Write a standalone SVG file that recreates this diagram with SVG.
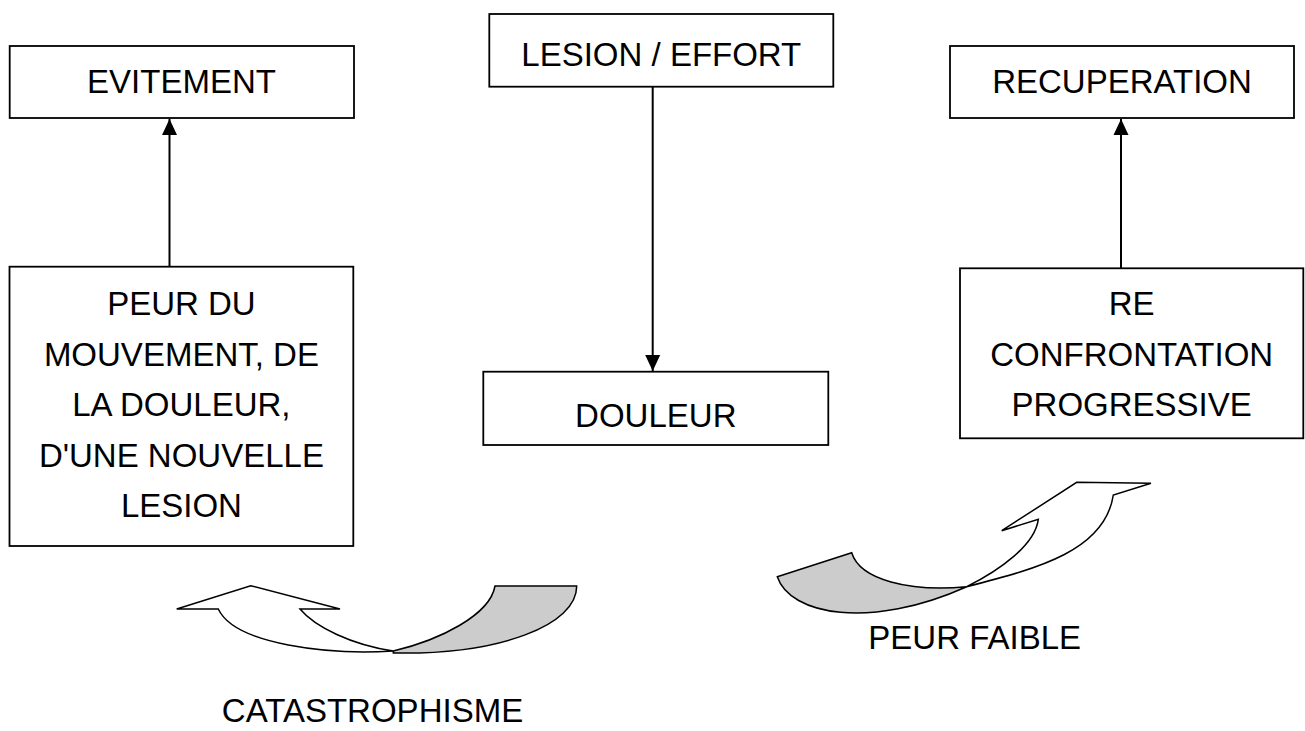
<svg xmlns="http://www.w3.org/2000/svg" width="1305" height="731" viewBox="0 0 1305 731">
<style>
.box{fill:#fff;stroke:#000;stroke-width:1.8}
.t{font-family:"Liberation Sans",Arial,sans-serif;font-size:33px;fill:#000;text-anchor:middle}
.conn{stroke:#000;stroke-width:2;fill:none}
.sh{stroke:#000;stroke-width:1.5;stroke-linejoin:miter}
</style>
<defs>
<marker id="ah" markerUnits="userSpaceOnUse" markerWidth="16" markerHeight="16" viewBox="0 0 16 16" refX="16" refY="8" orient="auto">
<path d="M0,0.5 L16,8 L0,15.5 Z" fill="#000"/>
</marker>
</defs>
<rect width="1305" height="731" fill="#fff"/>
<g id="connectors">
<line class="conn" x1="169.5" y1="266.7" x2="169.5" y2="119" marker-end="url(#ah)"/>
<line class="conn" x1="652.7" y1="87" x2="652.7" y2="371" marker-end="url(#ah)"/>
<line class="conn" x1="1121" y1="268.3" x2="1121" y2="119" marker-end="url(#ah)"/>
</g>
<g id="evitement">
<rect class="box" x="9.7" y="46" width="344.3" height="72"/>
<text class="t" x="181.5" y="93">EVITEMENT</text>
</g>
<g id="lesion-effort">
<rect class="box" x="489.3" y="14" width="344" height="72.7"/>
<text class="t" x="661.3" y="66">LESION / EFFORT</text>
</g>
<g id="recuperation">
<rect class="box" x="950" y="46" width="344" height="72"/>
<text class="t" x="1122" y="93">RECUPERATION</text>
</g>
<g id="peur">
<rect class="box" x="9.5" y="266.7" width="343.8" height="279.3"/>
<text class="t" x="181.4" y="315">PEUR DU</text>
<text class="t" x="181.4" y="365.5">MOUVEMENT, DE</text>
<text class="t" x="181.4" y="416">LA DOULEUR,</text>
<text class="t" x="181.4" y="466.5">D'UNE NOUVELLE</text>
<text class="t" x="181.4" y="517">LESION</text>
</g>
<g id="douleur">
<rect class="box" x="483.3" y="371.7" width="345" height="73.3"/>
<text class="t" x="655.8" y="427">DOULEUR</text>
</g>
<g id="reconfrontation">
<rect class="box" x="960" y="268.3" width="343.3" height="170"/>
<text class="t" x="1131.7" y="315">RE</text>
<text class="t" x="1131.7" y="365.5">CONFRONTATION</text>
<text class="t" x="1131.7" y="416">PROGRESSIVE</text>
</g>
<g id="catastrophisme-arrow">
<path class="sh" fill="#fff" d="M218.3,609 L176.7,609 L250.7,585.7 L340,609 L300,609 C315,627 352,645 393.3,651 C330,655 235,645 218.3,609 Z"/>
<path class="sh" fill="#cccccc" d="M393.3,651 C440,640 490,615 495,586 L576.7,586 C577,625 500,655 393.3,653 Z"/>
<text class="t" x="372.5" y="722">CATASTROPHISME</text>
</g>
<g id="peur-faible-arrow">
<path class="sh" fill="#fff" d="M966.7,586.7 C1000,570 1035,545 1038.3,519.3 L1001.7,530.7 L1076.7,482.3 L1151,483.3 L1113.3,495 C1105,550 1040,568 966.7,586.7 Z"/>
<path class="sh" fill="#cccccc" d="M777.3,576.7 L851.7,552.7 C860,580 910,592 966.7,586.7 C870,630 790,615 777.3,576.7 Z"/>
<text class="t" x="974.7" y="649">PEUR FAIBLE</text>
</g>
</svg>
